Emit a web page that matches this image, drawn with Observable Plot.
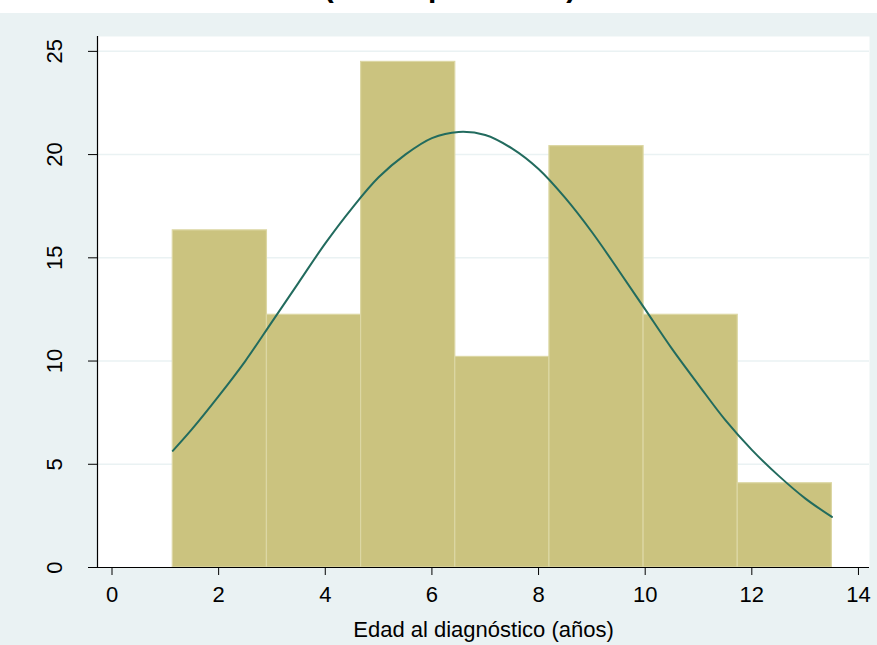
<!DOCTYPE html>
<html>
<head>
<meta charset="utf-8">
<script src="https://cdn.jsdelivr.net/npm/d3@7"></script>
<script src="https://cdn.jsdelivr.net/npm/@observablehq/plot@0.6"></script>
<style>
  body { margin: 0; background: #ffffff; }
  #top { position: relative; width: 877px; height: 13px; overflow: hidden; background: #ffffff; }
  #title { position: absolute; left: 450px; top: -28px; transform: translateX(-50%); white-space: nowrap;
           font: bold 30px/30px "Liberation Sans", Arial, sans-serif; color: #000; }
  #chart { width: 877px; height: 632px; }
</style>
</head>
<body>
<div id="top"><div id="title">(n = 49 pacientes)</div></div>
<div id="chart"></div>
<script>
const titleText = "(n = 49 pacientes)";
const xLabel = "Edad al diagnóstico (años)";
const binEdges = [1.14, 2.906, 4.672, 6.438, 8.204, 9.97, 11.736, 13.502];
const percents = [16.33, 12.24, 24.49, 10.20, 20.41, 12.24, 4.08];
const curveX = [1.14, 1.5, 2, 2.5, 3, 3.5, 4, 4.5, 5, 5.5, 6, 6.5, 7, 7.5, 8, 8.5, 9, 9.5, 10, 10.5, 11, 11.5, 12, 12.5, 13, 13.502];
const curveY = [5.65, 6.7, 8.3, 10.0, 11.9, 13.8, 15.7, 17.4, 18.9, 20.0, 20.8, 21.1, 20.95, 20.3, 19.3, 17.9, 16.25, 14.4, 12.5, 10.6, 8.85, 7.15, 5.7, 4.45, 3.35, 2.45];
const xTicks = [0, 2, 4, 6, 8, 10, 12, 14];
const yTicks = [0, 5, 10, 15, 20, 25];

document.getElementById("title").textContent = titleText;

const bars = percents.map((p, i) => ({x1: binEdges[i], x2: binEdges[i + 1], pct: p}));
const curve = curveX.map((x, i) => ({x, y: curveY[i]}));
const xDomain = [-0.272, 14.207];

const chart = Plot.plot({
  width: 877,
  height: 632,
  marginLeft: 97,
  marginRight: 8,
  marginTop: 23,
  marginBottom: 78,
  style: {background: "#eaf2f3", fontFamily: "'Liberation Sans', Arial, sans-serif", fontSize: "22px", color: "#000", overflow: "visible"},
  x: {domain: xDomain},
  y: {domain: [0, 25.72]},
  marks: [
    Plot.frame({fill: "white", stroke: null}),
    Plot.ruleY(yTicks.slice(1), {stroke: "#eaf2f3", strokeWidth: 1.5}),
    Plot.rectY(bars, {x1: "x1", x2: "x2", y: "pct", fill: "#cbc37f", stroke: "#dcd7a4", strokeWidth: 1.2}),
    Plot.line(curve, {x: "x", y: "y", stroke: "#226b5e", strokeWidth: 2, curve: "catmull-rom"}),
    Plot.ruleX([xDomain[0]], {stroke: "#000", strokeWidth: 1.2}),
    Plot.ruleY([0], {stroke: "#000", strokeWidth: 1.2}),
    Plot.axisX({ticks: xTicks, tickSize: 8, tickPadding: 11, fontSize: 22, label: null, stroke: "#000"}),
    Plot.axisY({ticks: yTicks, tickSize: 9, tickFormat: () => "", label: null, stroke: "#000"}),
    Plot.text(yTicks, {y: d => d, text: d => String(d), frameAnchor: "left", dx: -36, rotate: -90, textAnchor: "middle", lineAnchor: "bottom", fontSize: 22, fill: "#000"}),
    Plot.text([xLabel], {frameAnchor: "bottom", dy: 69.7, text: d => d, lineAnchor: "bottom", fontSize: 22, fill: "#000"})
  ]
});
document.getElementById("chart").appendChild(chart);
</script>
</body>
</html>
